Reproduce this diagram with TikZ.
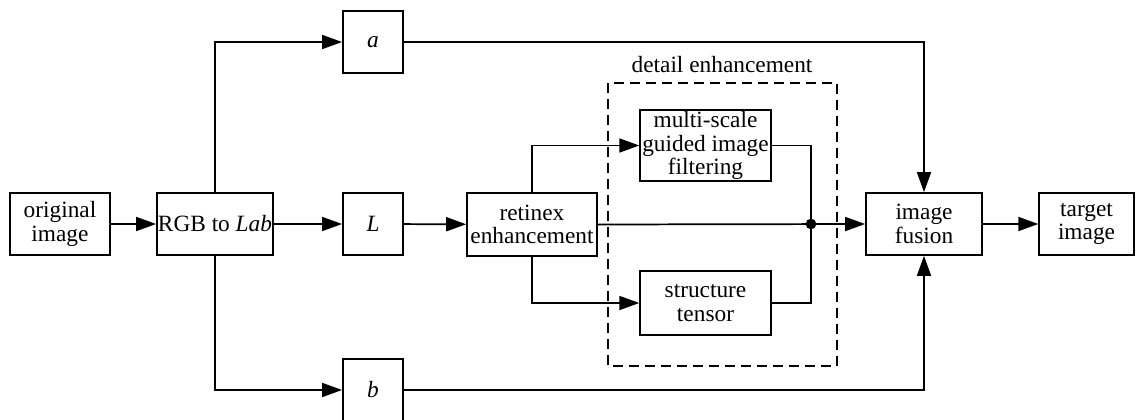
\documentclass[tikz,border=0pt]{standalone}
\usepackage{fontspec}
\setmainfont{Liberation Serif}
\usetikzlibrary{arrows.meta}

\begin{document}
\begin{tikzpicture}[x=0.75pt, y=-0.75pt,
    every node/.style={font=\fontsize{17.5}{17.5}\selectfont},
    block/.style={draw, line width=1.3pt, rectangle, align=center, inner sep=0pt, minimum height=46.5pt},
    flow/.style={line width=1.3pt, -{Triangle[length=15pt, width=10.5pt]}},
    link/.style={line width=1.3pt}]
    \useasboundingbox (0,0) rectangle (1136,420);

    % Nodes
    \node[block, minimum width=75pt] (orig) at (60,224) {original\\image};
    \node[block, minimum width=87pt] (rgb) at (215,224) {RGB to \textit{Lab}};
    \node[block, minimum width=45pt, minimum height=47pt] (chanA) at (373,42) {\textit{a}};
    \node[block, minimum width=45pt] (chanL) at (373,224) {\textit{L}};
    \node[block, minimum width=45pt, minimum height=47pt] (chanB) at (373,390) {\textit{b}};
    \node[block, minimum width=97.5pt, minimum height=47pt] (retinex) at (532,224.5) {retinex\\enhancement};
    \node[block, minimum width=98pt, minimum height=53pt] (guided) at (705.5,145.5) {multi-scale\\guided image\\filtering};
    \node[block, minimum width=98pt, minimum height=48pt] (tensor) at (705.5,303) {structure\\tensor};
    \node[block, minimum width=87pt] (fusion) at (924,224) {image\\fusion};
    \node[block, minimum width=71pt] (target) at (1086.5,224) {target\\image};

    % Detail enhancement frame
    \draw[line width=1.3pt, dash pattern=on 7.5pt off 4.5pt] (608,83) rectangle (837,366);
    \node (detail) at (722,65) {detail enhancement};
    \coordinate (junc) at (811,224);
    \fill (junc) circle (4pt);

    % Arrows
    \draw[flow] (orig) -- (rgb);
    \draw[flow] (rgb.north) |- (chanA.west);
    \draw[flow] (rgb) -- (chanL);
    \draw[flow] (rgb.south) |- (chanB.west);
    \draw[flow] (chanL) -- (retinex);
    \draw[flow] (retinex.north) |- (guided.west);
    \draw[flow] (retinex.south) |- (tensor.west);
    \draw[link] (guided.east) -| (junc);
    \draw[link] (tensor.east) -| (junc);
    \draw[flow] (retinex.east) -- (fusion.west);
    \draw[flow] (chanA.east) -| (fusion.north);
    \draw[flow] (chanB.east) -| (fusion.south);
    \draw[flow] (fusion) -- (target);
\end{tikzpicture}
\end{document}
